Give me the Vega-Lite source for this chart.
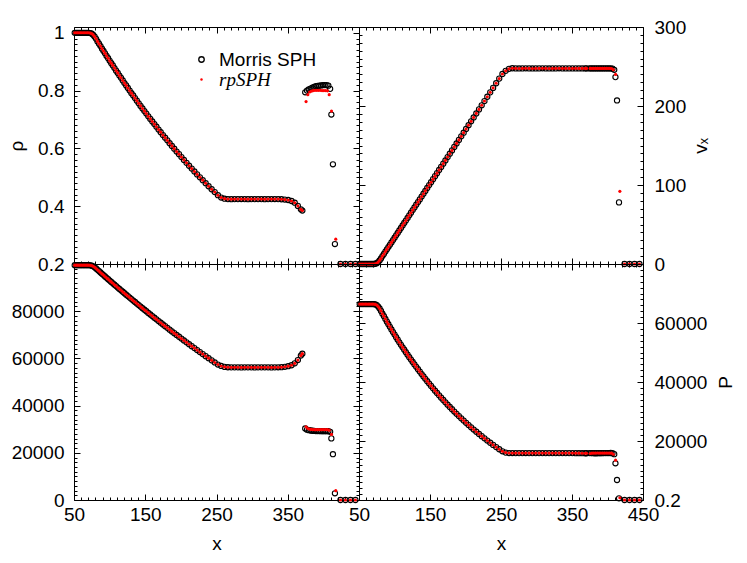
{
"$schema": "https://vega.github.io/schema/vega-lite/v6.json",
"background": "white",
"padding": {"left": 7, "top": 17, "right": 5, "bottom": 5},
"datasets": {
"morris": [
{"x":51,"rho":1,"vx":0,"e":99500,"P":66400},{"x":53,"rho":1,"vx":0,"e":99500,"P":66400},{"x":55,"rho":1,"vx":0,"e":99500,"P":66400},{"x":57,"rho":1,"vx":0,"e":99500,"P":66400},{"x":59,"rho":1,"vx":0,"e":99500,"P":66400},{"x":61,"rho":1,"vx":0,"e":99500,"P":66400},{"x":63,"rho":1,"vx":0,"e":99500,"P":66400},{"x":65,"rho":1,"vx":0,"e":99500,"P":66400},{"x":67,"rho":1,"vx":0,"e":99500,"P":66400},{"x":69,"rho":1,"vx":0,"e":99500,"P":66400},{"x":71,"rho":1,"vx":0,"e":99500,"P":66400},
{"x":73,"rho":0.999,"vx":0.3,"e":99440,"P":66300},{"x":75,"rho":0.997,"vx":1,"e":99300,"P":66070},{"x":77,"rho":0.9925,"vx":2.5,"e":99000,"P":65570},{"x":79,"rho":0.9866,"vx":4.5,"e":98600,"P":64920},{"x":81,"rho":0.979,"vx":7,"e":98110,"P":64100},{"x":83,"rho":0.97,"vx":10,"e":97520,"P":63150},{"x":85.1,"rho":0.962,"vx":12.7,"e":96990,"P":62310},{"x":87.2,"rho":0.954,"vx":15.7,"e":96400,"P":61360},{"x":89.3,"rho":0.945,"vx":18.6,"e":95830,"P":60450},{"x":91.4,"rho":0.937,"vx":21.4,"e":95290,"P":59600},{"x":93.5,"rho":0.929,"vx":24.3,"e":94720,"P":58720},{"x":95.7,"rho":0.92,"vx":27.3,"e":94140,"P":57820},{"x":97.9,"rho":0.912,"vx":30.3,"e":93560,"P":56930},{"x":100.1,"rho":0.903,"vx":33.3,"e":92980,"P":56060},{"x":102.3,"rho":0.895,"vx":36.3,"e":92410,"P":55200},{"x":104.5,"rho":0.887,"vx":39.3,"e":91830,"P":54350},{"x":106.8,"rho":0.878,"vx":42.5,"e":91220,"P":53460},{"x":109.1,"rho":0.869,"vx":45.6,"e":90630,"P":52610},{"x":111.4,"rho":0.861,"vx":48.8,"e":90030,"P":51740},{"x":113.7,"rho":0.852,"vx":51.9,"e":89440,"P":50930},{"x":116,"rho":0.844,"vx":55,"e":88860,"P":50110},{"x":118.4,"rho":0.835,"vx":58.3,"e":88240,"P":49270},{"x":120.8,"rho":0.826,"vx":61.6,"e":87620,"P":48430},{"x":123.2,"rho":0.818,"vx":64.9,"e":87010,"P":47610},{"x":125.6,"rho":0.809,"vx":68.2,"e":86390,"P":46790},{"x":128.1,"rho":0.8,"vx":71.6,"e":85760,"P":45960},{"x":130.6,"rho":0.791,"vx":75,"e":85130,"P":45150},{"x":133.1,"rho":0.783,"vx":78.4,"e":84510,"P":44330},{"x":135.6,"rho":0.774,"vx":81.8,"e":83890,"P":43540},{"x":138.2,"rho":0.765,"vx":85.4,"e":83230,"P":42700},{"x":140.8,"rho":0.756,"vx":88.9,"e":82600,"P":41900},{"x":143.4,"rho":0.747,"vx":92.5,"e":81950,"P":41090},{"x":146.1,"rho":0.738,"vx":96.2,"e":81280,"P":40260},{"x":148.8,"rho":0.729,"vx":99.9,"e":80620,"P":39460},{"x":151.5,"rho":0.7205,"vx":103.5,"e":79970,"P":38680},{"x":154.3,"rho":0.711,"vx":107.4,"e":79280,"P":37850},{"x":157.1,"rho":0.702,"vx":111.2,"e":78600,"P":37060},{"x":159.9,"rho":0.693,"vx":115,"e":77930,"P":36290},{"x":162.8,"rho":0.684,"vx":119,"e":77230,"P":35480},{"x":165.7,"rho":0.675,"vx":122.9,"e":76550,"P":34700},{"x":168.7,"rho":0.665,"vx":127,"e":75830,"P":33900},{"x":171.7,"rho":0.656,"vx":131.1,"e":75120,"P":33110},{"x":174.8,"rho":0.646,"vx":135.4,"e":74380,"P":32300},{"x":177.9,"rho":0.637,"vx":139.6,"e":73660,"P":31530},{"x":181,"rho":0.628,"vx":143.8,"e":72940,"P":30770},{"x":184.2,"rho":0.618,"vx":148.2,"e":72190,"P":29980},{"x":187.4,"rho":0.6085,"vx":152.6,"e":71450,"P":29210},{"x":190.7,"rho":0.599,"vx":157.1,"e":70690,"P":28440},{"x":194,"rho":0.589,"vx":161.6,"e":69940,"P":27680},{"x":197.4,"rho":0.58,"vx":166.2,"e":69170,"P":26920},{"x":200.8,"rho":0.57,"vx":170.9,"e":68400,"P":26160},{"x":204.3,"rho":0.56,"vx":175.7,"e":67610,"P":25400},{"x":207.9,"rho":0.55,"vx":180.6,"e":66810,"P":24640},{"x":211.5,"rho":0.54,"vx":185.5,"e":66010,"P":23890},{"x":215.2,"rho":0.53,"vx":190.6,"e":65190,"P":23130},{"x":219,"rho":0.52,"vx":195.7,"e":64370,"P":22390},{"x":222.8,"rho":0.51,"vx":200.9,"e":63540,"P":21640},{"x":226.7,"rho":0.5,"vx":206.3,"e":62680,"P":20890},{"x":230.7,"rho":0.49,"vx":211.7,"e":61830,"P":20150},{"x":234.8,"rho":0.4795,"vx":217.3,"e":60960,"P":19410},{"x":238.9,"rho":0.469,"vx":222.9,"e":60090,"P":18680},{"x":243.2,"rho":0.4587,"vx":228.8,"e":59180,"P":17940},{"x":247.5,"rho":0.449,"vx":234.7,"e":58280,"P":17210},{"x":252,"rho":0.438,"vx":240.5,"e":57400,"P":16500},{"x":256.6,"rho":0.43,"vx":244.5,"e":56790,"P":16070},{"x":261.3,"rho":0.426,"vx":247,"e":56400,"P":15920},
{"x":266,"rho":0.4245,"vx":247.8,"e":56250,"P":15910},{"x":270.7,"rho":0.4243,"vx":247.6,"e":56200,"P":15900},{"x":275.4,"rho":0.4245,"vx":247.5,"e":56210,"P":15905},{"x":280.1,"rho":0.4245,"vx":247.6,"e":56200,"P":15900},{"x":284.8,"rho":0.4247,"vx":247.7,"e":56190,"P":15908},{"x":289.5,"rho":0.4245,"vx":247.6,"e":56210,"P":15900},{"x":294.2,"rho":0.4243,"vx":247.5,"e":56200,"P":15896},{"x":298.9,"rho":0.4245,"vx":247.6,"e":56200,"P":15900},{"x":303.6,"rho":0.4245,"vx":247.6,"e":56190,"P":15902},{"x":308.3,"rho":0.4246,"vx":247.7,"e":56200,"P":15905},{"x":313,"rho":0.4245,"vx":247.6,"e":56200,"P":15900},{"x":317.7,"rho":0.4244,"vx":247.5,"e":56210,"P":15900},{"x":322.4,"rho":0.4245,"vx":247.6,"e":56200,"P":15898},{"x":327.1,"rho":0.4245,"vx":247.6,"e":56190,"P":15900},{"x":331.8,"rho":0.4247,"vx":247.7,"e":56200,"P":15906},{"x":336.5,"rho":0.4245,"vx":247.6,"e":56220,"P":15902},{"x":341.2,"rho":0.424,"vx":247.6,"e":56300,"P":15900},{"x":345.9,"rho":0.423,"vx":247.6,"e":56450,"P":15895},{"x":350.6,"rho":0.4215,"vx":247.6,"e":56700,"P":15890},{"x":355.3,"rho":0.418,"vx":247.6,"e":57100,"P":15880},{"x":359.8,"rho":0.412,"vx":247.6,"e":57900,"P":15870},{"x":364.2,"rho":0.401,"vx":247.6,"e":59300,"P":15860},{"x":368.4,"rho":0.389,"vx":247.6,"e":61200,"P":15850},{"x":370.5,"rho":0.385,"vx":247.6,"e":62000,"P":15850},
{"x":374.5,"rho":0.794,"vx":247.6,"e":30300,"P":15900},{"x":377,"rho":0.8,"vx":247.6,"e":29800,"P":15890},{"x":379.5,"rho":0.804,"vx":247.6,"e":29600,"P":15870},{"x":382,"rho":0.807,"vx":247.6,"e":29450,"P":15850},{"x":384.5,"rho":0.81,"vx":247.6,"e":29350,"P":15850},{"x":387,"rho":0.813,"vx":247.6,"e":29280,"P":15870},{"x":389.5,"rho":0.815,"vx":247.6,"e":29220,"P":15880},{"x":392,"rho":0.816,"vx":247.6,"e":29200,"P":15880},{"x":394.5,"rho":0.817,"vx":247.6,"e":29200,"P":15900},{"x":397,"rho":0.818,"vx":247.6,"e":29180,"P":15910},{"x":399.5,"rho":0.819,"vx":247.6,"e":29170,"P":15920},{"x":402,"rho":0.819,"vx":247.6,"e":29170,"P":15920},{"x":404.5,"rho":0.819,"vx":247.5,"e":29180,"P":15930},{"x":407,"rho":0.817,"vx":247.3,"e":29150,"P":15880},{"x":409.5,"rho":0.806,"vx":245.8,"e":28900,"P":15540},
{"x":411.2,"rho":0.717,"vx":236.6,"e":26100,"P":12440},{"x":413.4,"rho":0.545,"vx":207,"e":19400,"P":6780},{"x":416.2,"rho":0.269,"vx":78,"e":2840,"P":570},
{"x":424,"rho":0.2,"vx":0,"e":1.5,"P":0.2},{"x":431,"rho":0.2,"vx":0,"e":1.5,"P":0.2},{"x":438,"rho":0.2,"vx":0,"e":1.5,"P":0.2},{"x":445,"rho":0.2,"vx":0,"e":1.5,"P":0.2}
],
"rp": [
{"x":51,"rho":1,"vx":0,"e":99500,"P":66400},{"x":53,"rho":1,"vx":0,"e":99500,"P":66400},{"x":55,"rho":1,"vx":0,"e":99500,"P":66400},{"x":57,"rho":1,"vx":0,"e":99500,"P":66400},{"x":59,"rho":1,"vx":0,"e":99500,"P":66400},{"x":61,"rho":1,"vx":0,"e":99500,"P":66400},{"x":63,"rho":1,"vx":0,"e":99500,"P":66400},{"x":65,"rho":1,"vx":0,"e":99500,"P":66400},{"x":67,"rho":1,"vx":0,"e":99500,"P":66400},{"x":69,"rho":1,"vx":0,"e":99500,"P":66400},{"x":71,"rho":1,"vx":0,"e":99500,"P":66400},
{"x":73,"rho":0.999,"vx":0.3,"e":99440,"P":66300},{"x":75,"rho":0.997,"vx":1,"e":99300,"P":66070},{"x":77,"rho":0.9925,"vx":2.5,"e":99000,"P":65570},{"x":79,"rho":0.9866,"vx":4.5,"e":98600,"P":64920},{"x":81,"rho":0.979,"vx":7,"e":98110,"P":64100},{"x":83,"rho":0.97,"vx":10,"e":97520,"P":63150},{"x":85.1,"rho":0.962,"vx":12.7,"e":96990,"P":62310},{"x":87.2,"rho":0.954,"vx":15.7,"e":96400,"P":61360},{"x":89.3,"rho":0.945,"vx":18.6,"e":95830,"P":60450},{"x":91.4,"rho":0.937,"vx":21.4,"e":95290,"P":59600},{"x":93.5,"rho":0.929,"vx":24.3,"e":94720,"P":58720},{"x":95.7,"rho":0.92,"vx":27.3,"e":94140,"P":57820},{"x":97.9,"rho":0.912,"vx":30.3,"e":93560,"P":56930},{"x":100.1,"rho":0.903,"vx":33.3,"e":92980,"P":56060},{"x":102.3,"rho":0.895,"vx":36.3,"e":92410,"P":55200},{"x":104.5,"rho":0.887,"vx":39.3,"e":91830,"P":54350},{"x":106.8,"rho":0.878,"vx":42.5,"e":91220,"P":53460},{"x":109.1,"rho":0.869,"vx":45.6,"e":90630,"P":52610},{"x":111.4,"rho":0.861,"vx":48.8,"e":90030,"P":51740},{"x":113.7,"rho":0.852,"vx":51.9,"e":89440,"P":50930},{"x":116,"rho":0.844,"vx":55,"e":88860,"P":50110},{"x":118.4,"rho":0.835,"vx":58.3,"e":88240,"P":49270},{"x":120.8,"rho":0.826,"vx":61.6,"e":87620,"P":48430},{"x":123.2,"rho":0.818,"vx":64.9,"e":87010,"P":47610},{"x":125.6,"rho":0.809,"vx":68.2,"e":86390,"P":46790},{"x":128.1,"rho":0.8,"vx":71.6,"e":85760,"P":45960},{"x":130.6,"rho":0.791,"vx":75,"e":85130,"P":45150},{"x":133.1,"rho":0.783,"vx":78.4,"e":84510,"P":44330},{"x":135.6,"rho":0.774,"vx":81.8,"e":83890,"P":43540},{"x":138.2,"rho":0.765,"vx":85.4,"e":83230,"P":42700},{"x":140.8,"rho":0.756,"vx":88.9,"e":82600,"P":41900},{"x":143.4,"rho":0.747,"vx":92.5,"e":81950,"P":41090},{"x":146.1,"rho":0.738,"vx":96.2,"e":81280,"P":40260},{"x":148.8,"rho":0.729,"vx":99.9,"e":80620,"P":39460},{"x":151.5,"rho":0.7205,"vx":103.5,"e":79970,"P":38680},{"x":154.3,"rho":0.711,"vx":107.4,"e":79280,"P":37850},{"x":157.1,"rho":0.702,"vx":111.2,"e":78600,"P":37060},{"x":159.9,"rho":0.693,"vx":115,"e":77930,"P":36290},{"x":162.8,"rho":0.684,"vx":119,"e":77230,"P":35480},{"x":165.7,"rho":0.675,"vx":122.9,"e":76550,"P":34700},{"x":168.7,"rho":0.665,"vx":127,"e":75830,"P":33900},{"x":171.7,"rho":0.656,"vx":131.1,"e":75120,"P":33110},{"x":174.8,"rho":0.646,"vx":135.4,"e":74380,"P":32300},{"x":177.9,"rho":0.637,"vx":139.6,"e":73660,"P":31530},{"x":181,"rho":0.628,"vx":143.8,"e":72940,"P":30770},{"x":184.2,"rho":0.618,"vx":148.2,"e":72190,"P":29980},{"x":187.4,"rho":0.6085,"vx":152.6,"e":71450,"P":29210},{"x":190.7,"rho":0.599,"vx":157.1,"e":70690,"P":28440},{"x":194,"rho":0.589,"vx":161.6,"e":69940,"P":27680},{"x":197.4,"rho":0.58,"vx":166.2,"e":69170,"P":26920},{"x":200.8,"rho":0.57,"vx":170.9,"e":68400,"P":26160},{"x":204.3,"rho":0.56,"vx":175.7,"e":67610,"P":25400},{"x":207.9,"rho":0.55,"vx":180.6,"e":66810,"P":24640},{"x":211.5,"rho":0.54,"vx":185.5,"e":66010,"P":23890},{"x":215.2,"rho":0.53,"vx":190.6,"e":65190,"P":23130},{"x":219,"rho":0.52,"vx":195.7,"e":64370,"P":22390},{"x":222.8,"rho":0.51,"vx":200.9,"e":63540,"P":21640},{"x":226.7,"rho":0.5,"vx":206.3,"e":62680,"P":20890},{"x":230.7,"rho":0.49,"vx":211.7,"e":61830,"P":20150},{"x":234.8,"rho":0.4795,"vx":217.3,"e":60960,"P":19410},{"x":238.9,"rho":0.469,"vx":222.9,"e":60090,"P":18680},{"x":243.2,"rho":0.4587,"vx":228.8,"e":59180,"P":17940},{"x":247.5,"rho":0.449,"vx":234.7,"e":58280,"P":17210},{"x":252,"rho":0.438,"vx":240.5,"e":57400,"P":16500},{"x":256.6,"rho":0.43,"vx":244.5,"e":56790,"P":16070},{"x":261.3,"rho":0.426,"vx":247,"e":56400,"P":15920},
{"x":266,"rho":0.4245,"vx":247.8,"e":56250,"P":15910},{"x":270.7,"rho":0.4243,"vx":247.6,"e":56200,"P":15900},{"x":275.4,"rho":0.4245,"vx":247.5,"e":56210,"P":15905},{"x":280.1,"rho":0.4245,"vx":247.6,"e":56200,"P":15900},{"x":284.8,"rho":0.4247,"vx":247.7,"e":56190,"P":15908},{"x":289.5,"rho":0.4245,"vx":247.6,"e":56210,"P":15900},{"x":294.2,"rho":0.4243,"vx":247.5,"e":56200,"P":15896},{"x":298.9,"rho":0.4245,"vx":247.6,"e":56200,"P":15900},{"x":303.6,"rho":0.4245,"vx":247.6,"e":56190,"P":15902},{"x":308.3,"rho":0.4246,"vx":247.7,"e":56200,"P":15905},{"x":313,"rho":0.4245,"vx":247.6,"e":56200,"P":15900},{"x":317.7,"rho":0.4244,"vx":247.5,"e":56210,"P":15900},{"x":322.4,"rho":0.4245,"vx":247.6,"e":56200,"P":15898},{"x":327.1,"rho":0.4245,"vx":247.6,"e":56190,"P":15900},{"x":331.8,"rho":0.4247,"vx":247.7,"e":56200,"P":15906},{"x":336.5,"rho":0.4245,"vx":247.6,"e":56220,"P":15902},{"x":341.2,"rho":0.424,"vx":247.6,"e":56300,"P":15900},{"x":345.9,"rho":0.423,"vx":247.6,"e":56450,"P":15895},{"x":350.6,"rho":0.4215,"vx":247.6,"e":56700,"P":15890},{"x":355.3,"rho":0.418,"vx":247.6,"e":57100,"P":15880},{"x":359.8,"rho":0.412,"vx":247.6,"e":57900,"P":15870},{"x":364.2,"rho":0.401,"vx":247.6,"e":59300,"P":15860},{"x":368.4,"rho":0.389,"vx":247.6,"e":61200,"P":15850},{"x":370.5,"rho":0.385,"vx":247.6,"e":62000,"P":15850},
{"x":375.7,"rho":0.762,"vx":247.6,"e":31000,"P":15750},{"x":378.2,"rho":0.786,"vx":247.6,"e":30300,"P":15880},{"x":380.7,"rho":0.795,"vx":247.6,"e":30000,"P":15900},{"x":383.2,"rho":0.798,"vx":247.6,"e":29900,"P":15910},{"x":385.7,"rho":0.8,"vx":247.6,"e":29850,"P":15920},{"x":388.2,"rho":0.801,"vx":247.6,"e":29800,"P":15910},{"x":390.7,"rho":0.801,"vx":247.6,"e":29800,"P":15910},{"x":393.2,"rho":0.801,"vx":247.6,"e":29800,"P":15910},{"x":395.7,"rho":0.801,"vx":247.6,"e":29800,"P":15910},{"x":398.2,"rho":0.8,"vx":247.6,"e":29820,"P":15900},{"x":400.7,"rho":0.8,"vx":247.6,"e":29820,"P":15900},{"x":403.2,"rho":0.8,"vx":247.6,"e":29820,"P":15900},{"x":405.7,"rho":0.799,"vx":247.5,"e":29800,"P":15880},{"x":408.2,"rho":0.786,"vx":246,"e":29600,"P":15510},
{"x":411.4,"rho":0.729,"vx":240,"e":27800,"P":13510},{"x":417.4,"rho":0.286,"vx":92,"e":3940,"P":751},
{"x":424,"rho":0.2,"vx":0,"e":1.5,"P":0.2},{"x":431,"rho":0.2,"vx":0,"e":1.5,"P":0.2},{"x":438,"rho":0.2,"vx":0,"e":1.5,"P":0.2},{"x":445,"rho":0.2,"vx":0,"e":1.5,"P":0.2}
]
},
"columns": 2,
"spacing": 0,
"bounds": "flush",
"concat": [
 {"width": 285, "height": 237,
  "layer": [
   {"data": {"name": "morris"},
    "mark": {"type": "point", "shape": "circle", "filled": false, "size": 27, "strokeWidth": 1.1, "opacity": 1},
    "encoding": {
     "x": {"field": "x", "type": "quantitative", "scale": {"domain": [50, 450], "nice": false, "zero": false},
       "axis": {"orient": "bottom", "labels": false, "title": null, "values": [50,60,70,80,90,100,110,120,130,140,150,160,170,180,190,200,210,220,230,240,250,260,270,280,290,300,310,320,330,340,350,360,370,380,390,400,410,420,430,440,450], "tickSize": {"condition": {"test": "(datum.value-50)%100===0", "value": -6}, "value": -3}}},
     "y": {"field": "rho", "type": "quantitative", "scale": {"domain": [0.2, 1.02], "nice": false, "zero": false},
       "axis": {"orient": "left", "title": "ρ", "titleX": -57.5, "titleY": 118.5, "titleAngle": 270, "titleAlign": "center", "titleBaseline": "middle", "labelPadding": 16, "labelBaseline": "middle",
        "values": [0.2,0.22,0.24,0.26,0.28,0.3,0.32,0.34,0.36,0.38,0.4,0.42,0.44,0.46,0.48,0.5,0.52,0.54,0.56,0.58,0.6,0.62,0.64,0.66,0.68,0.7,0.72,0.74,0.76,0.78,0.8,0.82,0.84,0.86,0.88,0.9,0.92,0.94,0.96,0.98,1],
        "labelExpr": "round(datum.value*100)%20===0 ? ''+datum.value : ''",
        "tickSize": {"condition": {"test": "round(datum.value*100)%20===0", "value": -6}, "value": -3}}},
     "stroke": {"datum": "Morris SPH", "scale": {"domain": ["Morris SPH"], "range": ["black"]},
       "legend": {"orient": "none", "legendX": 118, "legendY": 23, "title": null, "labelFontSize": 19, "labelFont": "Liberation Sans", "labelColor": "black", "labelOffset": 8, "symbolType": "circle", "symbolSize": 30, "symbolStrokeWidth": 1.3, "symbolStrokeColor": "black", "symbolFillColor": "transparent"}}
    }},
   {"data": {"name": "rp"},
    "mark": {"type": "circle", "size": 10, "opacity": 1},
    "encoding": {
     "x": {"field": "x", "type": "quantitative",
       "axis": {"orient": "top", "labels": false, "title": null, "values": [50,60,70,80,90,100,110,120,130,140,150,160,170,180,190,200,210,220,230,240,250,260,270,280,290,300,310,320,330,340,350,360,370,380,390,400,410,420,430,440,450], "tickSize": {"condition": {"test": "(datum.value-50)%100===0", "value": -6}, "value": -3}}},
     "y": {"field": "rho", "type": "quantitative",
       "axis": {"orient": "right", "labels": false, "title": null,
        "values": [0.2,0.22,0.24,0.26,0.28,0.3,0.32,0.34,0.36,0.38,0.4,0.42,0.44,0.46,0.48,0.5,0.52,0.54,0.56,0.58,0.6,0.62,0.64,0.66,0.68,0.7,0.72,0.74,0.76,0.78,0.8,0.82,0.84,0.86,0.88,0.9,0.92,0.94,0.96,0.98,1],
        "tickSize": {"condition": {"test": "round(datum.value*100)%20===0", "value": -6}, "value": -3}}},
     "fill": {"datum": "rpSPH", "scale": {"domain": ["rpSPH"], "range": ["red"]},
       "legend": {"orient": "none", "legendX": 118, "legendY": 43, "title": null, "labelFontSize": 19, "labelFont": "Liberation Serif", "labelFontStyle": "italic", "labelColor": "black", "labelOffset": 8, "symbolType": "circle", "symbolSize": 6, "symbolStrokeWidth": 0}}
    }}
  ],
  "resolve": {"axis": {"x": "independent", "y": "independent"}}
 },
 {"width": 284, "height": 237,
  "layer": [
   {"data": {"name": "morris"},
    "mark": {"type": "point", "shape": "circle", "filled": false, "size": 27, "strokeWidth": 1.1, "opacity": 1, "color": "black"},
    "encoding": {
     "x": {"field": "x", "type": "quantitative", "scale": {"domain": [50, 450], "nice": false, "zero": false},
       "axis": {"orient": "bottom", "labels": false, "title": null, "values": [50,60,70,80,90,100,110,120,130,140,150,160,170,180,190,200,210,220,230,240,250,260,270,280,290,300,310,320,330,340,350,360,370,380,390,400,410,420,430,440,450], "tickSize": {"condition": {"test": "(datum.value-50)%100===0", "value": -6}, "value": -3}}},
     "y": {"field": "vx", "type": "quantitative", "scale": {"domain": [0, 300], "nice": false, "zero": false},
       "axis": {"orient": "left", "labels": false, "title": null,
        "values": [0,10,20,30,40,50,60,70,80,90,100,110,120,130,140,150,160,170,180,190,200,210,220,230,240,250,260,270,280,290,300],
        "tickSize": {"condition": {"test": "datum.value%100===0", "value": -6}, "value": -3}}}
    }},
   {"data": {"name": "rp"},
    "mark": {"type": "circle", "size": 10, "opacity": 1, "color": "red"},
    "encoding": {
     "x": {"field": "x", "type": "quantitative",
       "axis": {"orient": "top", "labels": false, "title": null, "values": [50,60,70,80,90,100,110,120,130,140,150,160,170,180,190,200,210,220,230,240,250,260,270,280,290,300,310,320,330,340,350,360,370,380,390,400,410,420,430,440,450], "tickSize": {"condition": {"test": "(datum.value-50)%100===0", "value": -6}, "value": -3}}},
     "y": {"field": "vx", "type": "quantitative",
       "axis": {"orient": "right", "title": "vₓ", "titleX": 57, "titleY": 118.5, "titleAngle": 270, "titleAlign": "center", "titleBaseline": "middle", "labelPadding": 17, "labelBaseline": "middle",
        "values": [0,10,20,30,40,50,60,70,80,90,100,110,120,130,140,150,160,170,180,190,200,210,220,230,240,250,260,270,280,290,300],
        "labelExpr": "datum.value%100===0 ? ''+datum.value : ''",
        "tickSize": {"condition": {"test": "datum.value%100===0", "value": -6}, "value": -3}}}
    }}
  ],
  "resolve": {"axis": {"x": "independent", "y": "independent"}}
 },
 {"width": 285, "height": 236,
  "layer": [
   {"data": {"name": "morris"},
    "mark": {"type": "point", "shape": "circle", "filled": false, "size": 27, "strokeWidth": 1.1, "opacity": 1, "color": "black"},
    "encoding": {
     "x": {"field": "x", "type": "quantitative", "scale": {"domain": [50, 450], "nice": false, "zero": false},
       "axis": {"orient": "bottom", "title": "x", "titleX": 142.5, "titleY": 43, "titleBaseline": "middle", "labelPadding": 20, "labelBaseline": "middle", "values": [50,60,70,80,90,100,110,120,130,140,150,160,170,180,190,200,210,220,230,240,250,260,270,280,290,300,310,320,330,340,350,360,370,380,390,400,410,420,430,440,450],
        "labelExpr": "(datum.value-50)%100===0 && datum.value<450 ? ''+datum.value : ''",
        "tickSize": {"condition": {"test": "(datum.value-50)%100===0", "value": -6}, "value": -3}}},
     "y": {"field": "e", "type": "quantitative", "scale": {"domain": [0, 100000], "nice": false, "zero": false},
       "axis": {"orient": "left", "title": null, "labelPadding": 16, "labelBaseline": "middle",
        "values": [0,2000,4000,6000,8000,10000,12000,14000,16000,18000,20000,22000,24000,26000,28000,30000,32000,34000,36000,38000,40000,42000,44000,46000,48000,50000,52000,54000,56000,58000,60000,62000,64000,66000,68000,70000,72000,74000,76000,78000,80000,82000,84000,86000,88000,90000,92000,94000,96000,98000,100000],
        "labelExpr": "datum.value%20000===0 && datum.value<100000 ? ''+datum.value : ''",
        "tickSize": {"condition": {"test": "datum.value%20000===0", "value": -6}, "value": -3}}}
    }},
   {"data": {"name": "rp"},
    "mark": {"type": "circle", "size": 10, "opacity": 1, "color": "red"},
    "encoding": {
     "x": {"field": "x", "type": "quantitative",
       "axis": {"orient": "top", "labels": false, "title": null, "values": [50,60,70,80,90,100,110,120,130,140,150,160,170,180,190,200,210,220,230,240,250,260,270,280,290,300,310,320,330,340,350,360,370,380,390,400,410,420,430,440,450], "tickSize": {"condition": {"test": "(datum.value-50)%100===0", "value": -6}, "value": -3}}},
     "y": {"field": "e", "type": "quantitative",
       "axis": {"orient": "right", "labels": false, "title": null,
        "values": [0,2000,4000,6000,8000,10000,12000,14000,16000,18000,20000,22000,24000,26000,28000,30000,32000,34000,36000,38000,40000,42000,44000,46000,48000,50000,52000,54000,56000,58000,60000,62000,64000,66000,68000,70000,72000,74000,76000,78000,80000,82000,84000,86000,88000,90000,92000,94000,96000,98000,100000],
        "tickSize": {"condition": {"test": "datum.value%20000===0", "value": -6}, "value": -3}}}
    }}
  ],
  "resolve": {"axis": {"x": "independent", "y": "independent"}}
 },
 {"width": 284, "height": 236,
  "layer": [
   {"data": {"name": "morris"},
    "mark": {"type": "point", "shape": "circle", "filled": false, "size": 27, "strokeWidth": 1.1, "opacity": 1, "color": "black"},
    "encoding": {
     "x": {"field": "x", "type": "quantitative", "scale": {"domain": [50, 450], "nice": false, "zero": false},
       "axis": {"orient": "bottom", "title": "x", "titleX": 142, "titleY": 43, "titleBaseline": "middle", "labelPadding": 20, "labelBaseline": "middle", "values": [50,60,70,80,90,100,110,120,130,140,150,160,170,180,190,200,210,220,230,240,250,260,270,280,290,300,310,320,330,340,350,360,370,380,390,400,410,420,430,440,450],
        "labelExpr": "(datum.value-50)%100===0 ? ''+datum.value : ''",
        "tickSize": {"condition": {"test": "(datum.value-50)%100===0", "value": -6}, "value": -3}}},
     "y": {"field": "P", "type": "quantitative", "scale": {"domain": [0.2, 80000], "nice": false, "zero": false},
       "axis": {"orient": "left", "labels": false, "title": null,
        "values": [0.2,2000,4000,6000,8000,10000,12000,14000,16000,18000,20000,22000,24000,26000,28000,30000,32000,34000,36000,38000,40000,42000,44000,46000,48000,50000,52000,54000,56000,58000,60000,62000,64000,66000,68000,70000,72000,74000,76000,78000,80000],
        "tickSize": {"condition": {"test": "datum.value%20000===0 || datum.value===0.2", "value": -6}, "value": -3}}}
    }},
   {"data": {"name": "rp"},
    "mark": {"type": "circle", "size": 10, "opacity": 1, "color": "red"},
    "encoding": {
     "x": {"field": "x", "type": "quantitative",
       "axis": {"orient": "top", "labels": false, "title": null, "values": [50,60,70,80,90,100,110,120,130,140,150,160,170,180,190,200,210,220,230,240,250,260,270,280,290,300,310,320,330,340,350,360,370,380,390,400,410,420,430,440,450], "tickSize": {"condition": {"test": "(datum.value-50)%100===0", "value": -6}, "value": -3}}},
     "y": {"field": "P", "type": "quantitative",
       "axis": {"orient": "right", "title": "P", "titleX": 82, "titleY": 118, "titleAngle": 270, "titleAlign": "center", "titleBaseline": "middle", "labelPadding": 17, "labelBaseline": "middle",
        "values": [0.2,2000,4000,6000,8000,10000,12000,14000,16000,18000,20000,22000,24000,26000,28000,30000,32000,34000,36000,38000,40000,42000,44000,46000,48000,50000,52000,54000,56000,58000,60000,62000,64000,66000,68000,70000,72000,74000,76000,78000,80000],
        "labelExpr": "(datum.value%20000===0 || datum.value===0.2) && datum.value<80000 ? ''+datum.value : ''",
        "tickSize": {"condition": {"test": "datum.value%20000===0 || datum.value===0.2", "value": -6}, "value": -3}}}
    }}
  ],
  "resolve": {"axis": {"x": "independent", "y": "independent"}}
 }
],
"config": {
 "view": {"stroke": "black", "strokeWidth": 1},
 "axis": {"grid": false, "domain": false, "tickColor": "black", "tickWidth": 1, "labelFont": "Liberation Sans", "labelFontSize": 19, "labelColor": "black", "titleFont": "Liberation Sans", "titleFontSize": 19, "titleFontWeight": "normal", "titleColor": "black", "labelFlush": false, "labelOverlap": false, "labelBound": false}
}
}
